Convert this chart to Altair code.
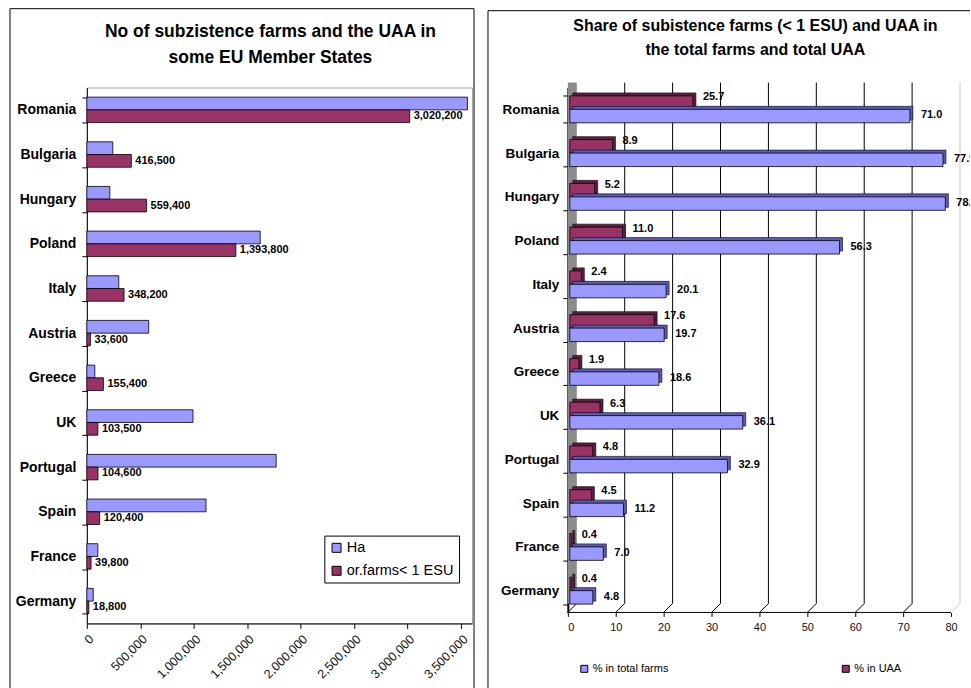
import altair as alt
import pandas as pd

# ---------------- data ----------------
countries = ["Romania", "Bulgaria", "Hungary", "Poland", "Italy", "Austria",
             "Greece", "UK", "Portugal", "Spain", "France", "Germany"]
ha_values = [3560000, 243000, 215000, 1622000, 299000, 579000,
             75000, 993000, 1771000, 1115000, 103000, 60000]
farm_counts = [3020200, 416500, 559400, 1393800, 348200, 33600,
               155400, 103500, 104600, 120400, 39800, 18800]
share_total_farms = [71.0, 77.9, 78.4, 56.3, 20.1, 19.7, 18.6, 36.1, 32.9, 11.2, 7.0, 4.8]
share_uaa = [25.7, 8.9, 5.2, 11.0, 2.4, 17.6, 1.9, 6.3, 4.8, 4.5, 0.4, 0.4]

left_series = ["Ha", "or.farms< 1 ESU"]
right_series = ["% in total farms", "% in UAA"]
left_ticks = [0, 500000, 1000000, 1500000, 2000000, 2500000, 3000000, 3500000]
right_ticks = [0, 10, 20, 30, 40, 50, 60, 70, 80]

left_title = ["No of subzistence farms and the UAA in", "some EU Member States"]
right_title = ["Share of subistence farms (< 1 ESU) and UAA in", "the total farms and total UAA"]

FONT = "Liberation Sans"
BLUE = "#9999FF"
MAROON = "#993366"
BLUE_DARK = "#5C5CB8"
MAROON_DARK = "#5E1F3F"

left_df = pd.DataFrame({
    "country": countries * 2,
    "series": [left_series[0]] * len(countries) + [left_series[1]] * len(countries),
    "value": ha_values + farm_counts,
})
right_df = pd.DataFrame({
    "country": countries * 2,
    "series": [right_series[0]] * len(countries) + [right_series[1]] * len(countries),
    "value": share_total_farms + share_uaa,
})
one = pd.DataFrame({"k": [0]})

# ---------------- left panel ----------------
LW, LH = 386, 537
y_left = alt.Y("country:N", sort=countries,
               scale=alt.Scale(domain=countries, paddingInner=0.43, paddingOuter=0.215),
               axis=alt.Axis(title=None, tickBand="extent", tickSize=5, tickColor="black",
                             domainColor="black", labelFontSize=14, labelFontWeight="bold",
                             labelColor="black", labelPadding=6))
x_left = alt.X("value:Q", scale=alt.Scale(domain=[0, 3603000], nice=False),
               axis=alt.Axis(title=None, values=left_ticks, format=",.0f", labelAngle=315,
                             grid=False, tickSize=5, tickColor="black", domainColor="black",
                             labelFontSize=12.5, labelColor="#111111", labelPadding=4))
yoff_left = alt.YOffset("series:N", scale=alt.Scale(domain=left_series, paddingInner=0, paddingOuter=0))

bars_l = alt.Chart(left_df).mark_bar(stroke="black", strokeWidth=0.8).encode(
    x=x_left, y=y_left, yOffset=yoff_left,
    color=alt.Color("series:N",
                    scale=alt.Scale(domain=left_series, range=[BLUE, MAROON]),
                    legend=alt.Legend(title=None, orient="none", legendX=238, legendY=449,
                                      direction="vertical", fillColor="white", strokeColor="black",
                                      padding=5, symbolType="square", symbolSize=81,
                                      symbolStrokeColor="black", symbolStrokeWidth=1,
                                      labelFontSize=14.5, labelFont=FONT, labelColor="black",
                                      rowPadding=8, labelOffset=3)),
)
labels_l = alt.Chart(left_df).transform_filter(
    alt.datum.series == left_series[1]
).mark_text(align="left", baseline="middle", dx=4, fontSize=11, fontWeight="bold", color="black").encode(
    x=alt.X("value:Q"), y=alt.Y("country:N", sort=countries), yOffset=yoff_left,
    text=alt.Text("value:Q", format=","),
)
title_l = alt.Chart(one).mark_text(text=left_title, lineHeight=26, fontSize=17.5, fontWeight="bold",
                                   align="center", baseline="alphabetic", color="black").encode(
    x=alt.value(184), y=alt.value(-51))
frame_l1 = alt.Chart(one).mark_rule(color="black", strokeWidth=1).encode(
    x=alt.value(-77), y=alt.value(-79), y2=alt.value(602))
frame_l2 = alt.Chart(one).mark_rule(color="black", strokeWidth=1).encode(
    x=alt.value(-77), x2=alt.value(388), y=alt.value(-79))
frame_l3 = alt.Chart(one).mark_rule(color="black", strokeWidth=1).encode(
    x=alt.value(388), y=alt.value(-79), y2=alt.value(602))

left = alt.layer(frame_l1, frame_l2, frame_l3, title_l, bars_l, labels_l).properties(
    width=LW, height=LH, view=alt.ViewBackground(stroke="#a6a6a6", strokeWidth=1))

# ---------------- right panel ----------------
RW, RH = 403, 526
RDOM = 80 * RW / 384
x_right = alt.X("value:Q", scale=alt.Scale(domain=[0, RDOM], nice=False, zero=True),
                axis=alt.Axis(title=None, values=right_ticks, format="d", labelAngle=0, grid=False,
                              domain=False, tickSize=4, tickColor="black", labelFontSize=11,
                              labelColor="#111111", labelPadding=5))
y_right = alt.Y("country:N", sort=countries,
                scale=alt.Scale(domain=countries, paddingInner=0.383, paddingOuter=0.19),
                axis=alt.Axis(title=None, tickBand="extent", tickSize=5, tickColor="black",
                              domainColor="black", domainWidth=2, labelFontSize=13.5,
                              labelFontWeight="bold", labelColor="black", labelPadding=4))
color_right = alt.Color("series:N",
                        scale=alt.Scale(domain=right_series, range=[BLUE, MAROON]),
                        legend=alt.Legend(title=None, orient="none", legendX=11, legendY=577,
                                          direction="horizontal", symbolType="square", symbolSize=49,
                                          symbolStrokeColor="black", symbolStrokeWidth=1,
                                          labelFontSize=11, labelFont=FONT, labelColor="black",
                                          columnPadding=172, labelOffset=3, padding=0))

grid_df = pd.DataFrame({"v": right_ticks})
wall = alt.Chart(one).mark_rect(color="#8c8c8c").encode(
    x=alt.value(0), x2=alt.value(9), y=alt.value(-5), y2=alt.value(517))
grid = alt.Chart(grid_df).transform_filter(
    (alt.datum.v > 0)
).mark_rule(xOffset=9, strokeWidth=1).encode(
    x=alt.X("v:Q"), y=alt.value(-5), y2=alt.value(517),
    color=alt.condition(alt.datum.v == 80, alt.value("#c8c8c8"), alt.value("black")))
floor = alt.Chart(grid_df).mark_rule(x2Offset=9, strokeWidth=1).encode(
    x=alt.X("v:Q"), x2=alt.X2("v"), y=alt.value(526), y2=alt.value(517),
    color=alt.condition(alt.datum.v == 80, alt.value("#c8c8c8"), alt.value("black")))
xline = alt.Chart(one).mark_rule(color="black", strokeWidth=1).encode(
    x=alt.datum(0), x2=alt.datum(80), y=alt.value(526))


def side(series, dy, dark):
    back = alt.Chart(right_df).transform_filter(alt.datum.series == series).mark_bar(
        size=13.5, yOffset=dy - 3, xOffset=5, x2Offset=5, color=dark, stroke="black", strokeWidth=0.6
    ).encode(x=x_right, y=y_right)
    front = alt.Chart(right_df).transform_filter(alt.datum.series == series).mark_bar(
        size=13.5, yOffset=dy, xOffset=2, x2Offset=2, stroke="black", strokeWidth=0.8
    ).encode(x=x_right, y=y_right, color=color_right)
    return back, front


back_u, front_u = side(right_series[1], -6.75, MAROON_DARK)
back_f, front_f = side(right_series[0], 6.75, BLUE_DARK)

lab_u = alt.Chart(right_df).transform_filter(alt.datum.series == right_series[1]).mark_text(
    align="left", baseline="middle", dx=12, yOffset=-12, fontSize=11, fontWeight="bold",
    color="black", clip=True).encode(
    x=alt.X("value:Q"), y=alt.Y("country:N", sort=countries), text=alt.Text("value:Q", format=".1f"))
lab_f = alt.Chart(right_df).transform_filter(alt.datum.series == right_series[0]).mark_text(
    align="left", baseline="middle", dx=13, yOffset=6, fontSize=11, fontWeight="bold",
    color="black", clip=True).encode(
    x=alt.X("value:Q"), y=alt.Y("country:N", sort=countries), text=alt.Text("value:Q", format=".1f"))

title_r = alt.Chart(one).mark_text(text=right_title, lineHeight=24, fontSize=16, fontWeight="bold",
                                   align="center", baseline="alphabetic", color="black").encode(
    x=alt.value(188), y=alt.value(-57))
frame_r1 = alt.Chart(one).mark_rule(color="black", strokeWidth=1).encode(
    x=alt.value(-80), y=alt.value(-77), y2=alt.value(602))
frame_r2 = alt.Chart(one).mark_rule(color="black", strokeWidth=1).encode(
    x=alt.value(-80), x2=alt.value(403), y=alt.value(-77))

right = alt.layer(frame_r1, frame_r2, title_r, wall, grid, floor, xline,
                  back_u, front_u, back_f, front_f, lab_u, lab_f).properties(
    width=RW, height=RH)

chart = alt.hconcat(left, right, spacing=96, bounds="flush",
                    padding={"left": 9, "top": 7, "right": 0, "bottom": 0}).resolve_scale(
    color="independent").resolve_legend(color="independent").configure(
    font=FONT).configure_view(strokeWidth=0)

chart.save("out.html", embed_options={"renderer": "svg", "actions": False})
